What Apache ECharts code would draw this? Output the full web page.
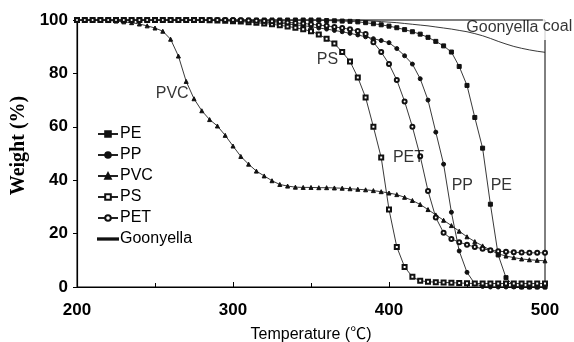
<!DOCTYPE html>
<html>
<head>
<meta charset="utf-8">
<script src="https://cdn.jsdelivr.net/npm/echarts@6/dist/echarts.min.js"></script>
<style>
  html, body { margin: 0; padding: 0; background: #fff; }
  #chart { width: 574px; height: 342px; }
</style>
</head>
<body>
<div id="chart"></div>
<script>
// temperature (°C), one sample every 5 degrees
const temps = [
  200, 205, 210, 215, 220, 225, 230, 235, 240, 245,
  250, 255, 260, 265, 270, 275, 280, 285, 290, 295,
  300, 305, 310, 315, 320, 325, 330, 335, 340, 345,
  350, 355, 360, 365, 370, 375, 380, 385, 390, 395,
  400, 405, 410, 415, 420, 425, 430, 435, 440, 445,
  450, 455, 460, 465, 470, 475, 480, 485, 490, 495, 500
];

// weight (%)
const pe = [
  100, 100, 100, 100, 100, 100, 100, 100, 100, 100,
  100, 100, 100, 100, 100, 100, 100, 100, 100, 100,
  100, 100, 100, 100, 100, 100, 100, 100, 100, 100,
  100, 100, 99.8, 99.7, 99.6, 99.5, 99.3, 99, 98.6, 98.2,
  97.7, 97.1, 96.4, 95.6, 94.7, 93.5, 92, 90.3, 88, 82.6,
  75.5, 63.5, 52, 31, 12, 3.5, 0.3, 0, 0, 0, 0
];
const pp = [
  100, 100, 100, 100, 100, 100, 100, 100, 100, 100,
  100, 100, 100, 100, 100, 100, 100, 100, 100, 99.9,
  99.8, 99.7, 99.5, 99.4, 99.2, 99, 98.8, 98.5, 98.2, 97.9,
  97.5, 97, 96.6, 96.1, 95.6, 95, 94.4, 93.7, 93, 92.3,
  91.5, 89.3, 86.6, 83.5, 78, 70, 58, 46, 28, 13.5,
  5.5, 1.2, 0.2, 0, 0, 0, 0, 0, 0, 0, 0
];
const pvc = [
  100, 100, 100, 99.9, 99.8, 99.6, 99.3, 99, 98.5, 97.8,
  97, 95.8, 92.8, 86.5, 77, 70.5, 66, 62.7, 60.3, 56.8,
  52.8, 48.9, 46, 43.4, 41.6, 39.8, 38.4, 37.8, 37.4, 37.3,
  37.3, 37.2, 37.2, 37.1, 37, 36.8, 36.6, 36.4, 36.1, 35.7,
  35.2, 34.6, 33.6, 32.4, 30.9, 29, 27, 25, 23, 20.9,
  18.8, 17, 15.4, 13.8, 12.4, 11.6, 11, 10.5, 10.2, 10, 9.8
];
const ps = [
  100, 100, 100, 100, 100, 100, 100, 100, 100, 100,
  100, 100, 100, 100, 100, 100, 100, 99.9, 99.8, 99.7,
  99.5, 99.4, 99.2, 99, 98.7, 98.4, 98, 97.6, 97.1, 96.5,
  95.8, 94.6, 93, 91.2, 88, 84.5, 78.5, 71, 60, 48.5,
  29, 15, 7.5, 3.8, 2.3, 2, 1.8, 1.7, 1.6, 1.5,
  1.4, 1.3, 1.3, 1.3, 1.3, 1.3, 1.3, 1.3, 1.3, 1.3, 1.3
];
const pet = [
  100, 100, 100, 100, 100, 100, 100, 100, 100, 100,
  100, 100, 100, 100, 100, 100, 100, 100, 100, 100,
  100, 99.9, 99.8, 99.7, 99.6, 99.5, 99.3, 99.1, 98.9, 98.7,
  98.4, 98.1, 97.8, 97.4, 97, 96.5, 95.9, 94.8, 91.7, 88,
  83.5, 77.5, 69.5, 60, 49, 36, 26, 20.3, 18, 16.8,
  15.8, 15, 14.3, 13.8, 13.4, 13.2, 13, 12.9, 12.8, 12.8, 12.8
];
const goonyella = [
  100, 100, 100, 100, 100, 100, 100, 100, 100, 100,
  100, 100, 100, 100, 100, 100, 100, 100, 100, 100,
  100, 100, 100, 100, 100, 100, 100, 100, 100, 100,
  100, 100, 100, 100, 100, 100, 100, 99.8, 99.6, 99.4,
  99.2, 99, 98.7, 98.4, 98.1, 97.8, 97.4, 97, 96.6, 96.1,
  95.6, 94.9, 94.1, 93.1, 92, 91, 90.1, 89.4, 88.8, 88.3, 87.9
];

// in-plot curve labels: [temperature, weight, text]
const curveLabels = [
  [261, 72.6, "PVC"],
  [360.5, 85.3, "PS"],
  [412.5, 48.3, "PET"],
  [447, 37.8, "PP"],
  [472, 37.8, "PE"]
];
const coalLabel = [[483.5, 97, "Goonyella coal"]];

const xTicks = [200, 300, 400, 500];
const yTicks = [0, 20, 40, 60, 80, 100];

const sans = "Liberation Sans, Arial, sans-serif";

const chart = echarts.init(document.getElementById("chart"), null, { renderer: "canvas" });

function pairs(values) {
  return temps.map((t, i) => [t, values[i]]);
}

function curve(name, values, symbol) {
  return {
    name: name,
    type: "line",
    data: pairs(values),
    symbol: symbol,
    symbolSize: 4,
    showSymbol: symbol !== "none",
    lineStyle: { color: "#222", width: 0.9 },
    itemStyle: { color: "#111", borderColor: "#111", borderWidth: 1 },
    emphasis: { disabled: true },
    animation: false,
    z: 3
  };
}

const option = {
  backgroundColor: "#fff",
  animation: false,
  grid: {
    left: 77,
    right: 29,
    top: 20,
    bottom: 55,
    outerBoundsMode: "none",
    containLabel: false,
    show: true,
    borderColor: "#000",
    borderWidth: 1
  },
  legend: {
    orient: "vertical",
    left: 92,
    top: 121,
    itemWidth: 20,
    itemHeight: 7,
    itemGap: 5,
    data: [
      "PE", "PP", "PVC", "PS", "PET",
      { name: "Goonyella", icon: "path://M0,0H20V1.3H0Z" }
    ],
    textStyle: { fontFamily: sans, fontSize: 16, color: "#000", lineHeight: 16, padding: [0, 0, 0, -3] },
    inactiveColor: "#111"
  },
  xAxis: {
    type: "value",
    min: xTicks[0],
    max: xTicks[xTicks.length - 1],
    interval: 100,
    name: "Temperature (℃)",
    nameLocation: "middle",
    nameGap: 40,
    nameTextStyle: { fontFamily: sans + ", Noto Sans CJK JP", fontSize: 16, color: "#000" },
    axisLine: { show: true, onZero: false, lineStyle: { color: "#000", width: 1.2 } },
    axisTick: { show: true, inside: true, length: 5, lineStyle: { color: "#000" } },
    minorTick: { show: true, splitNumber: 2, length: 4, lineStyle: { color: "#000" } },
    axisLabel: { fontFamily: sans, fontWeight: "bold", fontSize: 17, color: "#000", margin: 15 },
    splitLine: { show: false }
  },
  yAxis: {
    type: "value",
    min: yTicks[0],
    max: yTicks[yTicks.length - 1],
    interval: 20,
    name: "Weight (%)",
    nameLocation: "middle",
    nameGap: 40,
    nameTextStyle: { fontFamily: "Liberation Serif, Times New Roman, serif", fontWeight: "bold", fontSize: 20, color: "#000", padding: [0, 0, 0, 16] },
    axisLine: { show: true, lineStyle: { color: "#000", width: 1.2 } },
    axisTick: { show: true, inside: false, length: 4, lineStyle: { color: "#000" } },
    axisLabel: { fontFamily: sans, fontWeight: "bold", fontSize: 17, color: "#000", margin: 9 },
    splitLine: { show: false }
  },
  series: [
    curve("PE", pe, "rect"),
    curve("PP", pp, "circle"),
    curve("PVC", pvc, "triangle"),
    curve("PS", ps, "emptyRect"),
    curve("PET", pet, "emptyCircle"),
    curve("Goonyella", goonyella, "none"),
    {
      name: "labels",
      type: "scatter",
      data: curveLabels,
      symbolSize: 0,
      silent: true,
      z: 5,
      label: {
        show: true,
        position: "inside",
        formatter: (p) => p.data[2],
        fontFamily: sans,
        fontSize: 16,
        color: "#000"
      }
    },
    {
      name: "coal",
      type: "scatter",
      data: coalLabel,
      symbolSize: 0,
      silent: true,
      z: 6,
      label: {
        show: true,
        position: "inside",
        formatter: "{a|Goonyella }{b|coal}",
        rich: {
          a: { fontFamily: sans, fontSize: 16, color: "#000" },
          b: { fontFamily: sans, fontSize: 16, color: "#000", backgroundColor: "#fff", padding: [3, 0, 5, 0] }
        }
      }
    }
  ]
};

chart.setOption(option);
</script>
</body>
</html>
